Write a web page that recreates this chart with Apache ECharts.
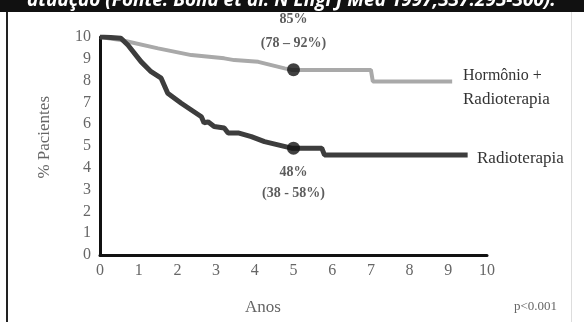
<!DOCTYPE html>
<html><head><meta charset="utf-8">
<script src="https://cdn.jsdelivr.net/npm/echarts@6/dist/echarts.min.js"></script>
<style>html,body{margin:0;padding:0;background:#fff}#c{width:584px;height:322px}</style>
</head><body><div id="c"></div>
<script>
const xTicks = [0,1,2,3,4,5,6,7,8,9,10];
const yTicks = [0,1,2,3,4,5,6,7,8,9,10];
const hormRadio = [[0,10],[0.54,9.86],[1.5,9.48],[2.36,9.17],[3.21,9.02],[3.47,8.94],[4.09,8.86],[4.77,8.56],[4.95,8.49],[7.0,8.49],[7.05,7.96],[9.1,7.96]];
const radio = [[0,10],[0.1,10],[0.54,9.94],[0.72,9.63],[1.06,8.87],[1.32,8.41],[1.58,8.11],[1.75,7.42],[1.8,7.45],[2.1,6.96],[2.36,6.65],[2.62,6.34],[2.69,6.06],[2.79,6.11],[2.95,5.89],[3.21,5.83],[3.31,5.6],[3.57,5.6],[3.91,5.43],[4.25,5.2],[4.6,5.05],[4.95,4.9],[5.73,4.9],[5.8,4.59],[9.5,4.59]];
const markers = [{value:[5,8.5], text:'85%\n(78 – 92%)'},{value:[5,4.9], text:'48%\n(38 - 58%)'}];
const serif = '"Liberation Serif","DejaVu Serif",serif';
const chart = echarts.init(document.getElementById('c'));
chart.setOption({
  animation:false,
  backgroundColor:'#fff',
  grid:{left:100,right:97,top:37,bottom:67},
  xAxis:{type:'value',min:0,max:10,interval:1,
    axisLine:{lineStyle:{color:'#111',width:3}},axisTick:{show:false},splitLine:{show:false},
    axisLabel:{color:'#666',fontFamily:serif,fontSize:16,margin:8}},
  yAxis:{type:'value',min:0,max:10,interval:1,
    axisLine:{show:true,lineStyle:{color:'#111',width:3}},axisTick:{show:false},splitLine:{show:false},
    axisLabel:{color:'#666',fontFamily:serif,fontSize:16,margin:9}},
  series:[
    {type:'line',data:hormRadio,symbol:'none',lineStyle:{color:'#a9a9a9',width:4},z:2},
    {type:'line',data:radio,symbol:'none',lineStyle:{color:'#3d3d3d',width:5},z:3},
    {type:'scatter',symbolSize:13,itemStyle:{color:'#111'},z:5,
      data:[
        {value:markers[0].value,label:{show:true,position:'top',distance:8,formatter:markers[0].text,lineHeight:24}},
        {value:markers[1].value,label:{show:true,position:'bottom',distance:7,formatter:markers[1].text,lineHeight:21}}
      ],
      label:{color:'#333',fontFamily:serif,fontSize:14,fontWeight:'bold',align:'center'}}
  ],
  graphic:[
    {type:'rect',shape:{x:0,y:0,width:584,height:12},style:{fill:'#111'},z:10},
    {type:'text',left:27,top:-9,style:{text:'atuação (Fonte: Bolla et al. N Engl J Med 1997;337:295-300).',fill:'#fff',font:'italic bold 19px "Open Sans", sans-serif'},z:11},
    {type:'rect',shape:{x:6,y:12,width:2,height:310},style:{fill:'#222'},z:10},
    {type:'rect',shape:{x:571,y:12,width:1,height:310},style:{fill:'#ddd'},z:10},
    {type:'text',left:463,top:68,style:{text:'Hormônio +',fill:'#333',font:'16px '+serif}},
    {type:'text',left:463,top:91,style:{text:'Radioterapia',fill:'#333',font:'17px '+serif}},
    {type:'text',left:477,top:150,style:{text:'Radioterapia',fill:'#333',font:'17px '+serif}},
    {type:'text',left:36,top:96,rotation:Math.PI/2,style:{text:'% Pacientes',fill:'#666',font:'17px '+serif}},
    {type:'text',left:245,top:299,style:{text:'Anos',fill:'#666',font:'17px '+serif}},
    {type:'text',left:514,top:300,style:{text:'p<0.001',fill:'#666',font:'13px '+serif}}
  ]
});
</script></body></html>
